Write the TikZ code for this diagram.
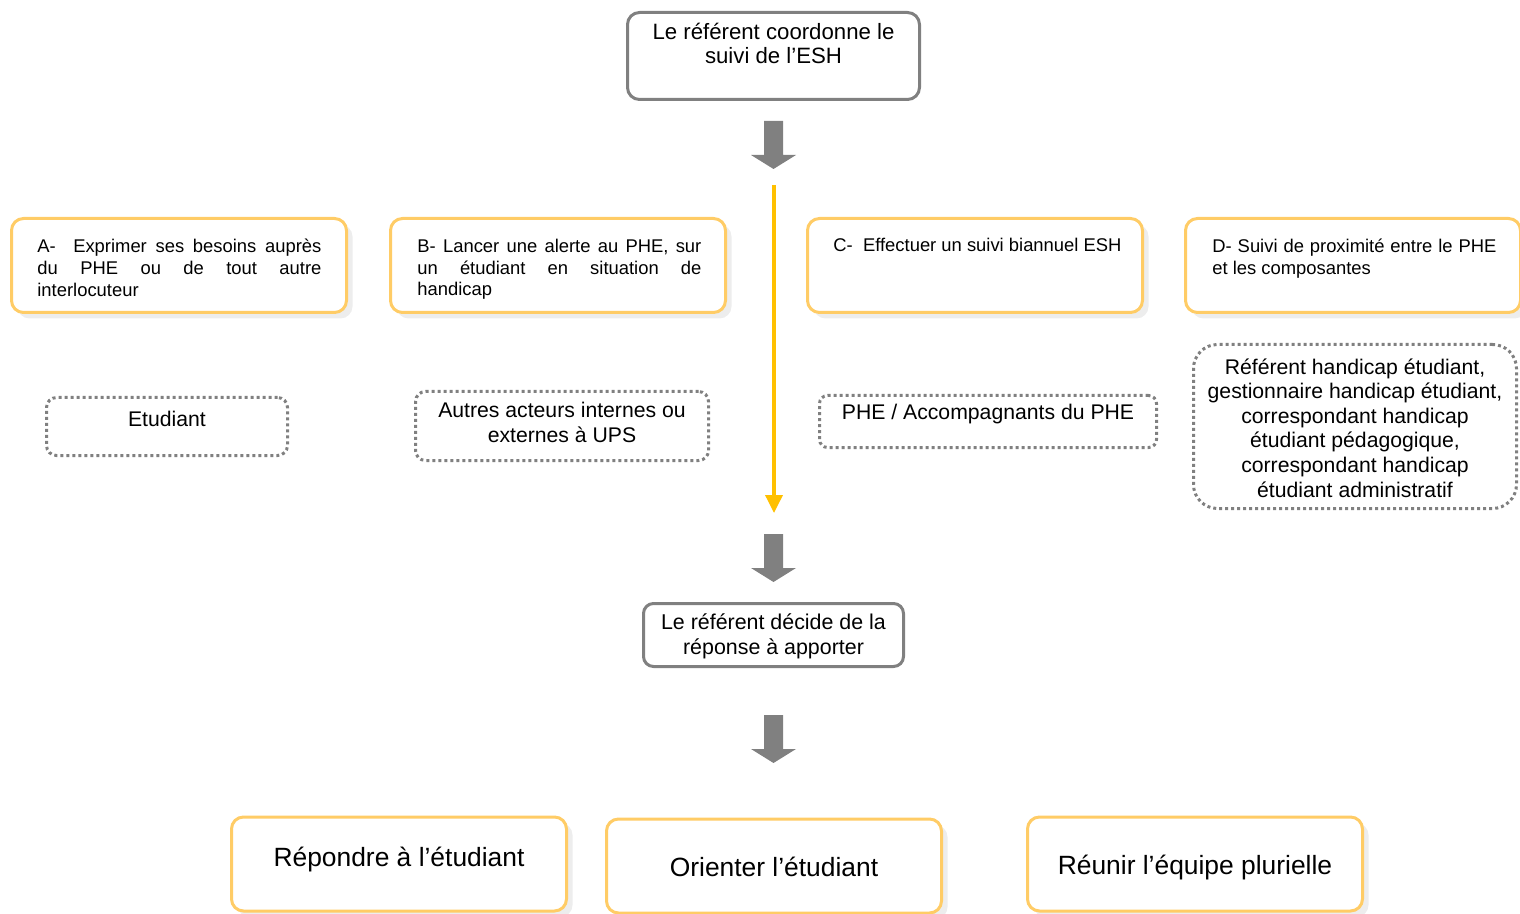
\documentclass[tikz,border=0pt]{standalone}
\usepackage{fontspec}
\setmainfont{Liberation Sans}
\usetikzlibrary{shadows,arrows.meta}
\definecolor{boxorange}{HTML}{FFCC66}
\definecolor{gborder}{HTML}{808080}
\definecolor{goldline}{HTML}{FFC000}
\definecolor{shade}{HTML}{EDEDED}
\tikzset{
  obox/.style={draw=boxorange, line width=1.5pt, rounded corners=6pt, fill=white,
    minimum width=167.5pt, minimum height=47pt, inner sep=0pt,
    drop shadow={shadow xshift=3pt, shadow yshift=-3pt, fill=shade, opacity=1}},
  gbox/.style={draw=gborder, line width=1.5pt, rounded corners=6pt, fill=white, inner sep=0pt},
  dbox/.style={draw=gborder, line width=1.5pt, dash pattern=on 1.5pt off 1.5pt, inner sep=0pt},
  smalltxt/.style={inner sep=0pt, text width=142pt, align=justify, anchor=north west, font=\fontsize{9.2}{10.8}\selectfont},
  midtxt/.style={inner sep=0pt, anchor=north, align=center, font=\fontsize{10.6}{12.3}\selectfont},
  bigtxt/.style={inner sep=0pt, anchor=north, align=center, font=\fontsize{13.2}{15.5}\selectfont},
  blockarrow/.style={fill=gborder},
  goldarrow/.style={draw=goldline, line width=1.8pt, -{Triangle[length=9pt,width=8.5pt]}}
}
\begin{document}
\begin{tikzpicture}[x=0.5pt,y=-0.5pt]
\useasboundingbox (0,0) rectangle (1520,914);

% top box
\node[gbox, minimum width=146pt, minimum height=43.5pt] (top) at (773.5,56) {};
\node[inner sep=0pt, anchor=north, align=center, font=\fontsize{11.1}{12}\selectfont] (ttop) at (773.5,23)
  {Le référent coordonne le\\suivi de l’ESH};

% block arrows
\foreach \t/\nm in {121/ba1,534/ba2,715/ba3}{
  \fill[blockarrow] (764,\t) -- (783,\t) -- (783,{\t+34}) -- (796,{\t+34}) -- (773.5,{\t+48})
    -- (751,{\t+34}) -- (764,{\t+34}) -- cycle;
}

% orange action boxes
\node[obox] (A) at (179,265.5) {};
\node[obox] (B) at (558,265.5) {};
\node[obox] (C) at (975,265.5) {};
\node[obox] (D) at (1353,265.5) {};
\node[smalltxt] (tA) at (37,239) {A-\ \ Exprimer ses besoins auprès\linebreak du PHE ou de tout autre\linebreak interlocuteur};
\node[smalltxt] (tB) at (417,239) {B- Lancer une alerte au PHE, sur\linebreak un étudiant en situation de\linebreak handicap};
\node[inner sep=0pt, anchor=north west, font=\fontsize{9.2}{10.8}\selectfont] (tC) at (833,238) {C-\ \ Effectuer un suivi biannuel ESH};
\node[smalltxt] (tD) at (1212,239) {D- Suivi de proximité entre le PHE\linebreak et les composantes};

% dotted actor boxes
\node[dbox, rounded corners=5pt, minimum width=120.5pt, minimum height=29pt] (etu) at (167,426.5) {};
\node[dbox, rounded corners=5pt, minimum width=146.5pt, minimum height=34.5pt] (aut) at (562,426) {};
\node[dbox, rounded corners=4pt, minimum width=168.5pt, minimum height=26pt] (phe) at (988,421.5) {};
\node[dbox, rounded corners=12pt, minimum width=161.5pt, minimum height=82pt] (ref) at (1355,426.5) {};
\node[midtxt] (tetu) at (167,411) {Etudiant};
\node[midtxt] (taut) at (562,402) {Autres acteurs internes ou\\externes à UPS};
\node[midtxt] (tphe) at (988,404) {PHE / Accompagnants du PHE};
\node[midtxt] (tref) at (1355,358) {Référent handicap étudiant,\\gestionnaire handicap étudiant,\\correspondant handicap\\étudiant pédagogique,\\correspondant handicap\\étudiant administratif};

% gold arrow
\coordinate (ys) at (774,185);
\coordinate (ye) at (774,513);
\draw[goldarrow] (ys) -- (ye);

% decide box
\node[gbox, rounded corners=5pt, minimum width=130pt, minimum height=31.5pt] (dec) at (773.5,635) {};
\node[inner sep=0pt, anchor=north, align=center, font=\fontsize{10.7}{12.5}\selectfont] (tdec) at (773.5,613)
  {Le référent décide de la\\réponse à apporter};

% bottom boxes
\node[obox] (rep) at (399,864) {};
\node[obox] (ori) at (774,866) {};
\node[obox] (reu) at (1195,864) {};
\node[bigtxt] (trep) at (399,847) {Répondre à l’étudiant};
\node[bigtxt] (tori) at (774,857) {Orienter l’étudiant};
\node[bigtxt] (treu) at (1195,855) {Réunir l’équipe plurielle};
\end{tikzpicture}
\end{document}
